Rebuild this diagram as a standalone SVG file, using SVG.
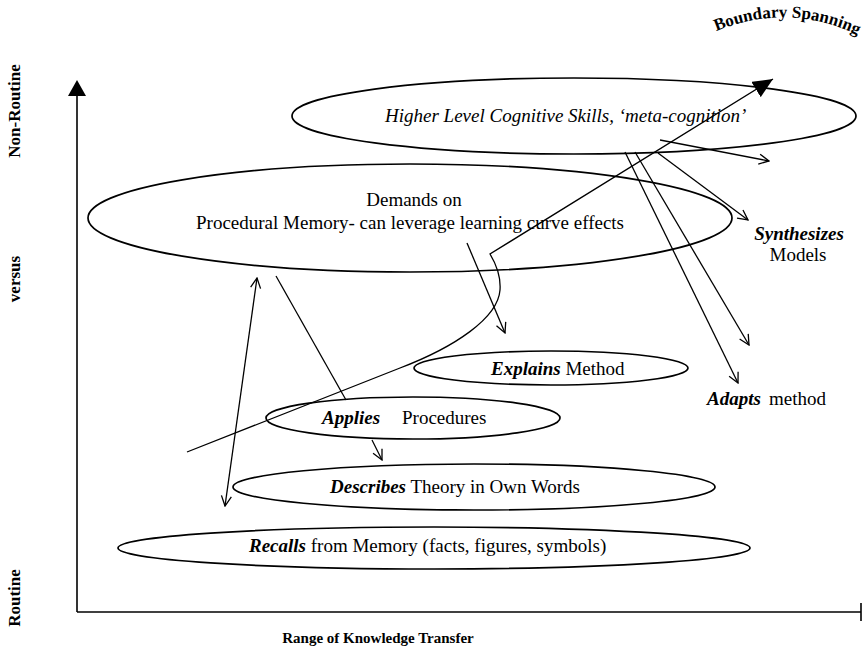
<svg xmlns="http://www.w3.org/2000/svg" width="863" height="651" viewBox="0 0 863 651">
  <style>
    .bg { fill: #ffffff; }
    .oval { fill: none; stroke: #000; stroke-width: 1.7; }
    .ln { fill: none; stroke: #000; stroke-width: 1.3; }
    .axis { fill: none; stroke: #000; stroke-width: 1.6; }
    text { font-family: 'Liberation Serif', serif; fill: #000; }
    .t { font-size: 19px; }
    .it { font-style: italic; }
    .bi { font-style: italic; font-weight: bold; }
    .lab { font-size: 17px; font-weight: bold; }
    .cap { font-size: 15px; font-weight: bold; }
  </style>
  <defs>
    <marker id="open" viewBox="0 0 12 12" refX="11" refY="6" markerWidth="12" markerHeight="12" markerUnits="userSpaceOnUse" orient="auto-start-reverse">
      <path d="M1,1 L11,6 L1,11" fill="none" stroke="#000" stroke-width="1.3"/>
    </marker>
    <marker id="solid" viewBox="0 0 20 18" refX="20" refY="9" markerWidth="20" markerHeight="18" markerUnits="userSpaceOnUse" orient="auto">
      <path d="M0,0 L20,9 L0,18 Z" fill="#000"/>
    </marker>
    <path id="arch" d="M712 33 Q788 0 862 37"/>
  </defs>
  <rect class="bg" x="0" y="0" width="863" height="651"/>

  <!-- axes -->
  <g id="axes">
    <line class="axis" x1="77" y1="92" x2="77" y2="612"/>
    <polygon points="77,80 86,96 68,96" fill="#000"/>
    <line class="axis" x1="77" y1="612" x2="861" y2="612"/>
    <line class="axis" x1="861" y1="603" x2="861" y2="621"/>
    <text class="lab" transform="translate(20,111) rotate(-90)" text-anchor="middle">Non-Routine</text>
    <text class="lab" transform="translate(20,279) rotate(-90)" text-anchor="middle">versus</text>
    <text class="lab" transform="translate(20,598) rotate(-90)" text-anchor="middle">Routine</text>
    <text class="cap" x="378" y="643" text-anchor="middle">Range of Knowledge Transfer</text>
  </g>

  <g id="boundary-spanning">
    <text class="lab"><textPath href="#arch" startOffset="50%" text-anchor="middle">Boundary Spanning</textPath></text>
  </g>

  <!-- skill levels -->
  <g id="higher-level">
    <ellipse class="oval" cx="574" cy="116" rx="282" ry="38"/>
    <text class="t it" x="385" y="122">Higher Level Cognitive Skills, ‘meta-cognition’</text>
  </g>
  <g id="procedural-memory">
    <ellipse class="oval" cx="410" cy="218" rx="322" ry="54"/>
    <text class="t" x="414" y="206" text-anchor="middle">Demands on</text>
    <text class="t" x="410" y="229" text-anchor="middle">Procedural Memory- can leverage learning curve effects</text>
  </g>
  <g id="explains">
    <ellipse class="oval" cx="551" cy="368" rx="137" ry="17"/>
    <text class="t" x="491" y="375"><tspan class="bi">Explains</tspan> Method</text>
  </g>
  <g id="applies">
    <ellipse class="oval" cx="413" cy="418" rx="147" ry="21"/>
    <text class="t bi" x="322" y="424">Applies</text>
    <text class="t" x="402" y="424">Procedures</text>
  </g>
  <g id="describes">
    <ellipse class="oval" cx="474" cy="487" rx="241" ry="23"/>
    <text class="t" x="330" y="493"><tspan class="bi">Describes</tspan> Theory in Own Words</text>
  </g>
  <g id="recalls">
    <ellipse class="oval" cx="434" cy="548" rx="316" ry="21"/>
    <text class="t" x="249" y="552"><tspan class="bi">Recalls</tspan> from Memory (facts, figures, symbols)</text>
  </g>
  <g id="synthesizes">
    <text class="t bi" x="799" y="240" text-anchor="middle">Synthesizes</text>
    <text class="t" x="798" y="261" text-anchor="middle">Models</text>
  </g>
  <g id="adapts">
    <text class="t bi" x="707" y="405">Adapts</text>
    <text class="t" x="769" y="405">method</text>
  </g>

  <!-- connectors -->
  <g id="connectors">
    <path class="ln" d="M187,452 L400,368 C455,347 498,318 500,290 C501,276 496,264 490,254 L773,79" marker-end="url(#solid)"/>
    <line class="ln" x1="276" y1="276" x2="346" y2="400"/>
    <line class="ln" x1="257" y1="278" x2="225" y2="506" marker-start="url(#open)" marker-end="url(#open)"/>
    <line class="ln" x1="467" y1="243" x2="505" y2="333" marker-end="url(#open)"/>
    <line class="ln" x1="372" y1="440" x2="382" y2="460" marker-end="url(#open)"/>
    <line class="ln" x1="660" y1="140" x2="769" y2="161" marker-end="url(#open)"/>
    <line class="ln" x1="658" y1="153" x2="748" y2="220" marker-end="url(#open)"/>
    <line class="ln" x1="635" y1="152" x2="749" y2="345" marker-end="url(#open)"/>
    <line class="ln" x1="625" y1="152" x2="738" y2="383" marker-end="url(#open)"/>
  </g>
</svg>
